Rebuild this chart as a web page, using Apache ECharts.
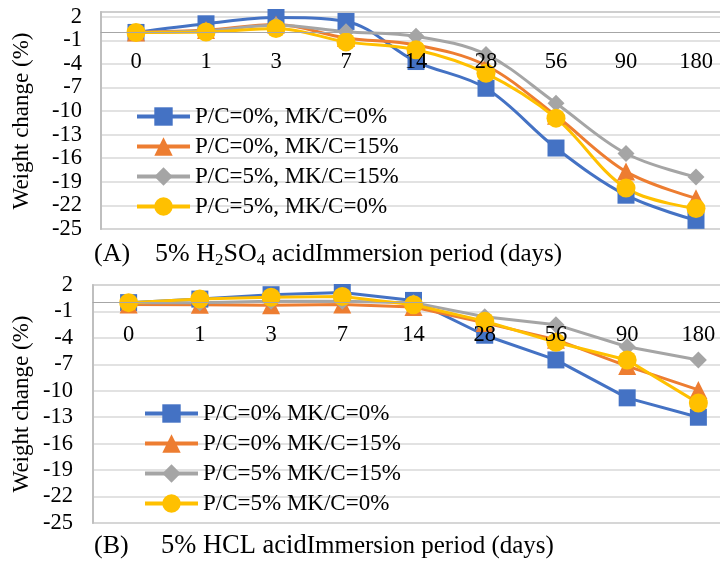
<!DOCTYPE html>
<html><head><meta charset="utf-8">
<script src="https://cdn.jsdelivr.net/npm/echarts@6/dist/echarts.min.js"></script>
<style>html,body{margin:0;padding:0;background:#fff}#c{width:720px;height:565px}</style>
</head><body><div id="c"></div>
<script>
// ---- data ----
const days = ['0', '1', '3', '7', '14', '28', '56', '90', '180'];
const yTicks = [2, -1, -4, -7, -10, -13, -16, -19, -22, -25];

const namesA = ['P/C=0%, MK/C=0%', 'P/C=0%, MK/C=15%', 'P/C=5%, MK/C=15%', 'P/C=5%, MK/C=0%'];
const namesB = ['P/C=0% MK/C=0%', 'P/C=0% MK/C=15%', 'P/C=5% MK/C=15%', 'P/C=5% MK/C=0%'];

// (A) 5% H2SO4 acid
const h2so4_pc0_mk0 = [0, 1.1, 1.9, 1.4, -3.7, -7.1, -14.7, -20.7, -23.9];
const h2so4_pc0_mk15 = [0, 0.3, 1.0, -0.7, -1.6, -4.2, -10.6, -17.7, -21.1];
const h2so4_pc5_mk15 = [0, 0.2, 0.9, 0.1, -0.5, -2.8, -9.0, -15.4, -18.4];
const h2so4_pc5_mk0 = [0, 0.05, 0.5, -1.2, -2.2, -5.2, -10.9, -19.8, -22.4];

// (B) 5% HCL acid
const hcl_pc0_mk0 = [0, 0.4, 0.9, 1.15, 0.25, -3.7, -6.5, -10.8, -13.0];
const hcl_pc0_mk15 = [-0.2, -0.25, -0.3, -0.2, -0.5, -2.3, -4.2, -7.2, -9.9];
const hcl_pc5_mk15 = [0, 0, 0.15, 0.15, 0, -1.6, -2.5, -5.0, -6.5];
const hcl_pc5_mk0 = [0, 0.4, 0.6, 0.7, -0.25, -2.1, -4.5, -6.5, -11.4];

// ---- styles ----
const FONT = "'Liberation Serif', 'Times New Roman', serif";
const colors = ['#4472C4', '#ED7D31', '#A5A5A5', '#FFC000'];
const symbols = ['rect', 'triangle', 'diamond', 'circle'];
const symbolSizes = [17, 18, 17, 19];

const dataA = [h2so4_pc0_mk0, h2so4_pc0_mk15, h2so4_pc5_mk15, h2so4_pc5_mk0];
const dataB = [hcl_pc0_mk0, hcl_pc0_mk15, hcl_pc5_mk15, hcl_pc5_mk0];

function mkSeries(names, datas, idx, smooth) {
  return names.map((n, i) => ({
    name: n, type: 'line', xAxisIndex: idx, yAxisIndex: idx,
    data: datas[i], smooth: smooth,
    symbol: symbols[i], symbolSize: symbolSizes[i],
    lineStyle: { color: colors[i], width: 3 },
    itemStyle: { color: colors[i] },
    emphasis: { disabled: true }
  }));
}

function mkX(idx, margin) {
  return {
    type: 'category', gridIndex: idx, data: days, boundaryGap: true, z: 10,
    axisLine: { onZero: true, lineStyle: { color: '#a6a6a6', width: 1.2 } },
    axisTick: { show: false },
    axisLabel: { color: '#000', fontFamily: FONT, fontSize: 22.5, margin: margin, hideOverlap: false },
    splitLine: { show: false }
  };
}
function mkY(idx, max, margin) {
  return {
    type: 'value', gridIndex: idx, min: -25, max: max,
    axisLine: { show: true, lineStyle: { color: '#bfbfbf', width: 2 } },
    axisTick: { show: false, customValues: yTicks },
    axisLabel: { color: '#000', fontFamily: FONT, fontSize: 22.5, margin: margin, customValues: yTicks },
    splitLine: { show: true, lineStyle: { color: '#d9d9d9', width: 1.5 } }
  };
}
function mkLegend(names, left, top) {
  return {
    data: names, orient: 'vertical', left: left, top: top,
    itemWidth: 53, itemHeight: 23, itemGap: 7,
    lineStyle: { width: 4, inactiveWidth: 4 },
    textStyle: { color: '#000', fontFamily: FONT, fontSize: 23 },
    selectedMode: false
  };
}

const chart = echarts.init(document.getElementById('c'), null, { renderer: 'canvas' });
chart.setOption({
  backgroundColor: '#fff',
  animation: false,
  grid: [
    { left: 101, top: 12, width: 630, height: 217, show: true, borderColor: '#bfbfbf', borderWidth: 1.5,
      backgroundColor: 'transparent', containLabel: false, outerBoundsMode: 'none' },
    { left: 93, top: 285, width: 641, height: 238, show: true, borderColor: '#bfbfbf', borderWidth: 1.5,
      backgroundColor: 'transparent', containLabel: false, outerBoundsMode: 'none' }
  ],
  xAxis: [mkX(0, -178), mkX(1, -199)],
  yAxis: [mkY(0, 2.6, 19), mkY(1, 2, 20)],
  legend: [mkLegend(namesA, 130, 100), mkLegend(namesB, 138, 397)],
  series: mkSeries(namesA, dataA, 0, 0.35).concat(mkSeries(namesB, dataB, 1, false)),
  graphic: [
    { type: 'text', x: 22, y: 121, rotation: Math.PI / 2,
      style: { text: 'Weight change (%)', font: '23px ' + FONT, fill: '#000', align: 'center', verticalAlign: 'middle' } },
    { type: 'text', x: 22, y: 404, rotation: Math.PI / 2,
      style: { text: 'Weight change (%)', font: '23px ' + FONT, fill: '#000', align: 'center', verticalAlign: 'middle' } },
    { type: 'text', x: 94, y: 254,
      style: { text: '(A)', font: '26px ' + FONT, fill: '#000', align: 'left', verticalAlign: 'middle' } },
    { type: 'text', x: 155, y: 254,
      style: {
        text: '{m|5% H}{s|2}{m|SO}{s|4}{m| acid}{n|Immersion period (days)}',
        fill: '#000', align: 'left', verticalAlign: 'middle',
        rich: {
          m: { fontFamily: FONT, fontSize: 26, lineHeight: 30, fill: '#000' },
          s: { fontFamily: FONT, fontSize: 17, lineHeight: 17, verticalAlign: 'bottom', fill: '#000' },
          n: { fontFamily: FONT, fontSize: 25, lineHeight: 30, fill: '#000' }
        }
      } },
    { type: 'text', x: 94, y: 546,
      style: { text: '(B)', font: '26px ' + FONT, fill: '#000', align: 'left', verticalAlign: 'middle' } },
    { type: 'text', x: 161, y: 546,
      style: {
        text: '{m|5% HCL acid}{n|Immersion period (days)}',
        fill: '#000', align: 'left', verticalAlign: 'middle',
        rich: {
          m: { fontFamily: FONT, fontSize: 26.5, lineHeight: 30, fill: '#000' },
          n: { fontFamily: FONT, fontSize: 25, lineHeight: 30, fill: '#000' }
        }
      } }
  ]
});
</script>
</body></html>
